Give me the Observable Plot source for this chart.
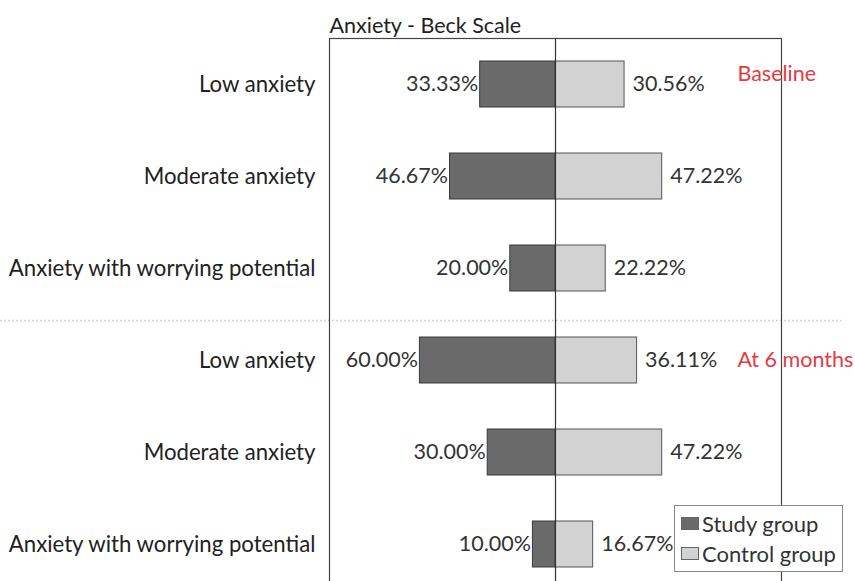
<!DOCTYPE html>
<html>
<head>
<meta charset="utf-8">
<script src="https://cdn.jsdelivr.net/npm/d3@7"></script>
<script src="https://cdn.jsdelivr.net/npm/@observablehq/plot@0.6"></script>
<style>
  html, body { margin: 0; padding: 0; overflow: hidden; background: #fff; }
  #wrap { position: relative; width: 855px; height: 581px; overflow: hidden; font-family: Lato, sans-serif; }
  #legend { position: absolute; left: 674px; top: 505px; width: 169px; height: 67px; border: 1px solid #888; background: #fff; box-sizing: border-box; font-size: 22px; color: #333; }
  .item { position: absolute; left: 6px; display: flex; align-items: center; height: 26px; }
  .sw { width: 18px; height: 13px; border: 1px solid #666; box-sizing: border-box; margin-right: 3px; }
</style>
</head>
<body>
<div id="wrap"></div>
<script>
const title = "Anxiety - Beck Scale";
const categories = ["Low anxiety", "Moderate anxiety", "Anxiety with worrying potential"];
const periods = ["Baseline", "At 6 months"];
const studyValues = [33.33, 46.67, 20.00, 60.00, 30.00, 10.00];
const controlValues = [30.56, 47.22, 22.22, 36.11, 47.22, 16.67];
const seriesNames = ["Study group", "Control group"];
const seriesColors = ["#6a6a6a", "#d2d2d2"];

const rows = [];
periods.forEach((p, pi) => categories.forEach((c, ci) => {
  const i = pi * categories.length + ci;
  rows.push({key: "r" + i, period: p, category: c, study: studyValues[i], control: controlValues[i]});
}));
const labelOf = new Map(rows.map(d => [d.key, d.category]));
const periodRows = periods.map((p, pi) => ({period: p, key: rows[pi * categories.length].key}));
const sepKey = rows[categories.length].key;

const fmt = v => v.toFixed(2) + "%";
const font = "Lato, sans-serif";
const fs = 21.5;

const plot = Plot.plot({
  width: 855,
  height: 590,
  marginTop: 38,
  marginBottom: 0,
  marginLeft: 329,
  marginRight: 74,
  style: {fontFamily: font, fontSize: fs + "px", color: "#333", background: "#fff", overflow: "visible"},
  x: {domain: [-100, 100], axis: null},
  y: {domain: rows.map(d => d.key), padding: 0, axis: null},
  marks: [
    Plot.ruleY([sepKey], {y: d => d, dy: -40, stroke: "#c4c4c4", strokeDasharray: "1.5,2.5", strokeWidth: 1.5, insetLeft: -329, insetRight: -60}),
    Plot.barX(rows, {y: "key", x1: 0, x2: d => -d.study, fill: seriesColors[0], stroke: "#3a3a3a", strokeWidth: 1, insetTop: 23, insetBottom: 23}),
    Plot.barX(rows, {y: "key", x1: 0, x2: "control", fill: seriesColors[1], stroke: "#555", strokeWidth: 1, insetTop: 23, insetBottom: 23}),
    Plot.ruleX([0], {stroke: "#333", strokeWidth: 1.2}),
    Plot.frame({stroke: "#444", strokeWidth: 1.2}),
    Plot.axisY({tickSize: 0, tickPadding: 14, label: null, tickFormat: k => labelOf.get(k), fontSize: 22.2, color: "#222"}),
    Plot.text(rows, {y: "key", x: d => -d.study, text: d => fmt(d.study), textAnchor: "end", dx: -2, fontSize: fs, fill: "#333"}),
    Plot.text(rows, {y: "key", x: "control", text: d => fmt(d.control), textAnchor: "start", dx: 8, fontSize: fs, fill: "#333"}),
    Plot.text(periodRows.slice(0, 1), {y: "key", x: 80.5, text: "period", textAnchor: "start", dy: -10, fontSize: fs, fill: "#e53a3f"}),
    Plot.text(periodRows.slice(1), {y: "key", x: 80.5, text: "period", textAnchor: "start", dy: 0, fontSize: fs, fill: "#e53a3f"}),
    Plot.text([title], {frameAnchor: "top-left", text: d => d, textAnchor: "start", lineAnchor: "bottom", dy: -6, fontSize: fs, fill: "#222"})
  ]
});
const wrap = document.getElementById("wrap");
wrap.appendChild(plot);

const legend = document.createElement("div");
legend.id = "legend";
seriesNames.forEach((n, i) => {
  const it = document.createElement("div");
  it.className = "item";
  it.style.top = (i === 0 ? 4 : 34) + "px";
  const sw = document.createElement("div");
  sw.className = "sw";
  sw.style.background = seriesColors[i];
  const t = document.createElement("span");
  t.textContent = n;
  it.appendChild(sw); it.appendChild(t);
  legend.appendChild(it);
});
wrap.appendChild(legend);
</script>
</body>
</html>
